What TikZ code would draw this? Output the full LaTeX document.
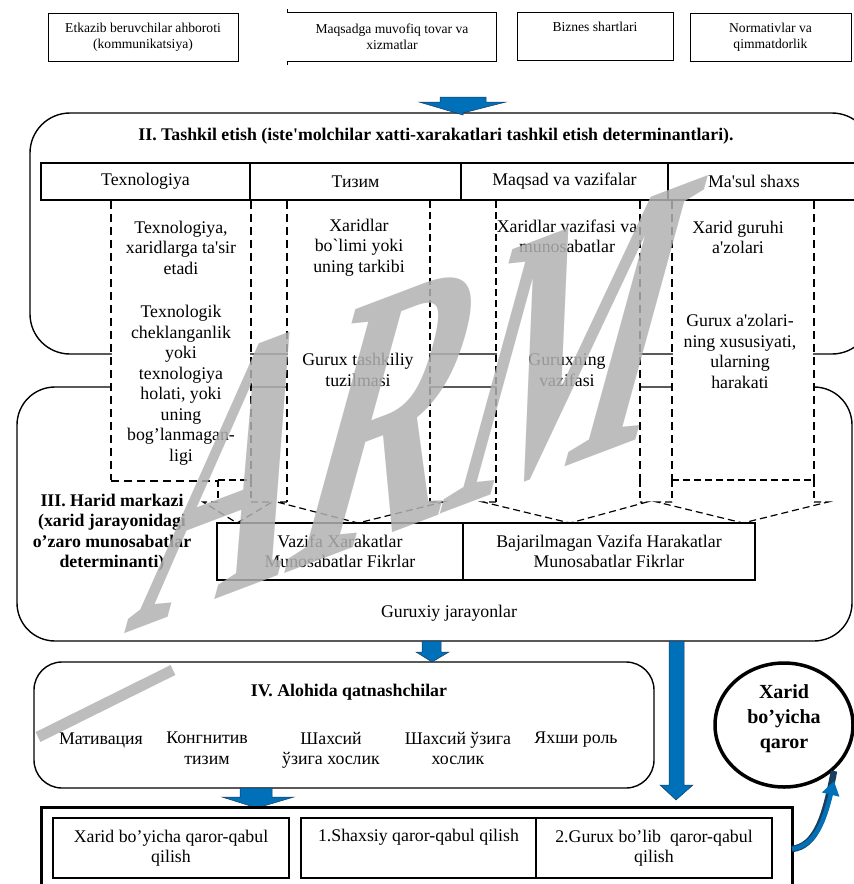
\documentclass[tikz,border=0pt]{standalone}
\usepackage{fontspec}
\setmainfont{Liberation Serif}
\newfontfamily\lib{Liberation Serif}
\usetikzlibrary{arrows.meta,shapes.geometric}
\definecolor{arrowblue}{RGB}{0,112,184}
\definecolor{arrowedge}{RGB}{25,60,95}
\definecolor{wmgray}{RGB}{178,178,178}
\begin{document}
\begin{tikzpicture}[x=1pt,y=-1pt,
  txt/.style={font=\lib\fontsize{17.8}{20.5}\selectfont, align=center, inner sep=0pt},
  btxt/.style={font=\lib\bfseries\fontsize{17.8}{20.5}\selectfont, align=center, inner sep=0pt},
  smalltxt/.style={font=\lib\fontsize{13.6}{16}\selectfont, align=center, inner sep=0pt},
  thinbox/.style={draw, line width=0.8pt, inner sep=0pt},
  cellbox/.style={draw, line width=1.2pt, inner sep=0pt},
  frame/.style={draw, line width=1.4pt},
  thickdash/.style={line width=2.8pt, dash pattern=on 8pt off 5pt},
  thindash/.style={line width=1.2pt, dash pattern=on 7pt off 4pt},
  bluearrow/.style={fill=arrowblue, draw=arrowedge, line width=0.5pt}
]
\useasboundingbox (0,0) rectangle (854,884);

% ---------- top row ----------
\node[thinbox, minimum width=190, minimum height=48, smalltxt] (b1) at (143,37) {Etkazib beruvchilar ahboroti\\(kommunikatsiya)};
\node[minimum width=208, minimum height=48, smalltxt] (b2) at (392,37) {Maqsadga muvofiq tovar va\\xizmatlar};
\draw[line width=0.8pt] ([yshift=-4]b2.south west) -- (b2.south west) -- (b2.south east) -- (b2.north east) -- (b2.north west) -- ([yshift=4]b2.north west);
\node[thinbox, minimum width=156, minimum height=48] (b3) at (595,36) {};
\node[smalltxt, anchor=center] (b3t) at (595,27) {Biznes shartlari};
\node[thinbox, minimum width=161, minimum height=48, smalltxt] (b4) at (770.5,37) {Normativlar va\\qimmatdorlik};

% ---------- section II ----------
\draw[frame, rounded corners=40] (30,113) rectangle (872,354);
\coordinate (secIItop) at (463,113);
\draw[bluearrow] (440,97) -- (486,97) -- (486,102) -- (506,102) -- (secIItop) -- ++(0,2) -- (419,102) -- (440,102) -- cycle;
\node[btxt] (titleII) at (436,136) {II. Tashkil etish (iste'molchilar xatti-xarakatlari tashkil etish determinantlari).};

% ---------- section III box ----------
\draw[frame, rounded corners=38] (17,387) rectangle (852,641);

% header table
\node[cellbox, minimum width=209, minimum height=37, txt] (h1) at (145.5,181.5) {Texnologiya};
\node[cellbox, minimum width=211, minimum height=37, txt] (h2) at (355.5,181.5) {Тизим};
\node[cellbox, minimum width=207, minimum height=37, txt] (h3) at (564.5,181.5) {Maqsad va vazifalar};
\node[cellbox, minimum width=220, minimum height=37] (h4) at (778,181.5) {};
\node[txt] (h4t) at (754,181.5) {Ma'sul shaxs};

% column backgrounds (hide box lines)
\fill[white] (112,201) rectangle (250,480);
\fill[white] (288,201) rectangle (429,502);
\fill[white] (497,201) rectangle (639,502);
\fill[white] (673,201) rectangle (813,502);

% column 1
\draw[thickdash] (111,201) -- (111,480);
\draw[thickdash] (251,201) -- (251,480);
\draw[thickdash] (111,481) -- (218,481);
\draw[thindash] (218,480) -- (251,480);
\draw[thindash] (218,480) -- (218,502);
\draw[thindash] (251,480) -- (251,502);
\draw[thindash] (218,502) -- (203,502) -- (237,523) -- (272,502) -- (251,502);
% column 2
\draw[thickdash] (287,201) -- (287,502);
\draw[thindash] (430,201) -- (430,502);
\draw[thindash] (287,502) -- (277,502) -- (358,523) -- (443,502) -- (430,502);
% column 3
\draw[thindash] (496,201) -- (496,502);
\draw[thickdash] (640,201) -- (640,480);
\draw[thindash] (640,480) -- (640,502);
\draw[thindash] (496,502) -- (483,502) -- (570,523) -- (647,502) -- (640,502);
% column 4
\draw[thickdash] (672,201) -- (672,480);
\draw[thickdash] (814,201) -- (814,480);
\draw[thindash] (672,480) -- (814,480);
\draw[thindash] (672,480) -- (672,502);
\draw[thindash] (814,480) -- (814,502);
\draw[thindash] (672,502) -- (657,502) -- (743,523) -- (828,502) -- (814,502);

% column texts
\node[txt] (c1a) at (181,247.5) {Texnologiya,\\xaridlarga ta'sir\\etadi};
\node[txt] (c1b) at (181,385) {Texnologik\\cheklanganlik\\yoki\\texnologiya\\holati, yoki\\uning\\bog’lanmagan-\\ligi};
\node[txt] (c2a) at (359,247.5) {Xaridlar\\bo`limi yoki\\uning tarkibi};
\node[txt] (c2b) at (358,370) {Gurux tashkiliy\\tuzilmasi};
\node[txt] (c3a) at (567,236.5) {Xaridlar vazifasi va\\munosabatlar};
\node[txt] (c3b) at (567,370) {Guruxning\\vazifasi};
\node[txt] (c4a) at (738,237.5) {Xarid guruhi\\a'zolari};
\node[txt] (c4b) at (740,351.5) {Gurux a'zolari-\\ning xususiyati,\\ularning\\harakati};

% section III contents
\node[btxt] (titleIII) at (112,532.5) {III. Harid markazi\\(xarid jarayonidagi\\o’zaro munosabatlar\\determinanti)};
\node[cellbox, minimum width=246, minimum height=57, txt] (vz) at (340,551.5) {Vazifa Xarakatlar\\Munosabatlar Fikrlar};
\node[cellbox, minimum width=292, minimum height=57, txt] (bvz) at (609,551.5) {Bajarilmagan Vazifa Harakatlar\\Munosabatlar Fikrlar};
\node[txt] (gj) at (449,613) {Guruxiy jarayonlar};

% ---------- section IV ----------
\node[frame, rounded corners=28, minimum width=620, minimum height=126] (secIV) at (344,725) {};
\draw[bluearrow] (422,641) -- (441,641) -- (441,652) -- (449,652) -- (432,662) -- (416,652) -- (422,652) -- cycle;
\node[btxt] (titleIV) at (349,692) {IV. Alohida qatnashchilar};
\node[txt] (p1) at (101,740) {Мативация};
\node[txt, anchor=north] (p2) at (207,732) {Конгнитив\\тизим};
\node[txt, anchor=north] (p3) at (331,732) {Шахсий\\ўзига хослик};
\node[txt, anchor=north] (p4) at (458,732) {Шахсий ўзига\\хослик};
\node[txt] (p5) at (576,740) {Яхши роль};

% long arrow
\draw[bluearrow] (669,641) -- (684,641) -- (684,785) -- (693,785) -- (676,800) -- (660,785) -- (669,785) -- cycle;

% decision ellipse
\node[ellipse, draw, line width=3.5pt, minimum width=138, minimum height=124, inner sep=0pt] (dec) at (784,725) {};
\node[font=\lib\bfseries\fontsize{20}{25}\selectfont, align=center, inner sep=0pt] (dect) at (784,719) {Xarid\\bo’yicha\\qaror};

% ---------- bottom ----------
\draw[bluearrow] (240,788) -- (272,788) -- (272,797) -- (294,797) -- (257,808) -- (222,797) -- (240,797) -- cycle;
\draw[line width=3pt] (41,905) -- (41,807) -- (792,807) -- (792,905);
\coordinate (bbr) at (792,849);
\coordinate (arrend) at (834,781);
\node[cellbox, minimum width=236, minimum height=60, txt] (q1) at (171,848) {Xarid bo’yicha qaror-qabul\\qilish};
\node[cellbox, minimum width=235, minimum height=60] (q2) at (418.5,848) {};
\node[txt] (q2t) at (418.5,837) {1.Shaxsiy qaror-qabul qilish};
\node[cellbox, minimum width=236, minimum height=60, txt] (q3) at (654,848) {2.Gurux bo’lib~ qaror-qabul\\qilish};

% curved arrow to decision
\draw[arrowedge, line width=6.5pt] (bbr) .. controls (816,846) and (825,818) .. ([yshift=10]arrend);
\draw[arrowblue, line width=4.5pt, -{Triangle[width=17pt,length=14pt]}] (bbr) .. controls (816,846) and (825,818) .. (arrend);

% ---------- watermark ----------
\begin{scope}[opacity=0.85]
\draw[wmgray, line width=11pt] (38,737) -- (173,670);
\begin{scope}[shift={(122,635)}, cm={0.66,0.25,0.336,1.224,(0,0)}, transform shape]
\node[anchor=base west, text=wmgray, font=\lib\bfseries\fontsize{330}{330}\selectfont, inner sep=0pt] (wmark) at (0,0) {ARM};
\end{scope}
\end{scope}
\end{tikzpicture}
\end{document}
